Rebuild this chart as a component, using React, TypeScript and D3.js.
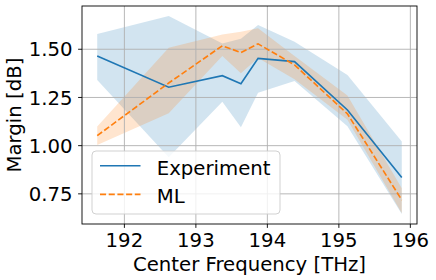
import * as d3 from "d3";

// channel center frequencies [THz]
const freqs = [191.62, 192.62, 193.37, 193.63, 193.87, 194.38, 195.12, 195.88];

// measured margin [dB] and its spread
const expMean = [1.465, 1.303, 1.363, 1.321, 1.453, 1.436, 1.185, 0.835];
const expUpper = [1.579, 1.673, 1.53, 1.555, 1.626, 1.539, 1.367, 1.021];
const expLower = [1.341, 0.94, 1.228, 1.095, 1.275, 1.335, 1.1, 0.645];

// ML prediction and its spread
const mlMean = [1.052, 1.325, 1.518, 1.483, 1.528, 1.419, 1.165, 0.718];
const mlUpper = [1.099, 1.508, 1.576, 1.591, 1.609, 1.465, 1.26, 0.779];
const mlLower = [1.004, 1.168, 1.465, 1.376, 1.455, 1.345, 1.135, 0.649];

const xTicks = [192, 193, 194, 195, 196];
const yTicks = [0.75, 1.0, 1.25, 1.5];

const seriesNames = ["Experiment", "ML"];

function App() {
  const width = 436;
  const height = 280;
  const margin = { left: 82, right: 19, top: 6, bottom: 56 };
  const blue = "#1f77b4";
  const orange = "#ff7f0e";
  const font = "DejaVu Sans";
  const fs = 19.7;

  // matplotlib-style 5% auto margins
  const pad = (lo: number, hi: number) => {
    const m = (hi - lo) * 0.05;
    return [lo - m, hi + m];
  };
  const xExt = d3.extent(freqs) as [number, number];
  const allY = [...expUpper, ...expLower, ...mlUpper, ...mlLower];
  const yExt = d3.extent(allY) as [number, number];

  const xScale = d3
    .scaleLinear()
    .domain(pad(xExt[0], xExt[1]))
    .range([margin.left, width - margin.right]);
  const yScale = d3
    .scaleLinear()
    .domain(pad(yExt[0], yExt[1]))
    .range([height - margin.bottom, margin.top]);

  const band = (lo: number[], hi: number[]) =>
    d3
      .area<number>()
      .x((d) => xScale(d))
      .y0((_, i) => yScale(lo[i]))
      .y1((_, i) => yScale(hi[i]))(freqs) || "";
  const line = (vals: number[]) =>
    d3
      .line<number>()
      .x((d) => xScale(d))
      .y((_, i) => yScale(vals[i]))(freqs) || "";

  const [x0, x1] = xScale.range();
  const [y0, y1] = yScale.range();

  // legend
  const lgX = 92;
  const lgY = 151;
  const lgRows = [165.7, 194.3];

  return (
    <svg
      width={width}
      height={height}
      style={{ position: "absolute", left: 0, top: 0, background: "white" }}
      fontFamily={font}
    >
      {/* bands */}
      <path d={band(expLower, expUpper)} fill={blue} fillOpacity={0.2} />
      <path d={band(mlLower, mlUpper)} fill={orange} fillOpacity={0.2} />

      {/* grid */}
      {xTicks.map((t) => (
        <line key={"gx" + t} x1={xScale(t)} x2={xScale(t)} y1={y1} y2={y0} stroke="#b0b0b0" strokeWidth={0.9} />
      ))}
      {yTicks.map((t) => (
        <line key={"gy" + t} x1={x0} x2={x1} y1={yScale(t)} y2={yScale(t)} stroke="#b0b0b0" strokeWidth={0.9} />
      ))}

      {/* lines */}
      <path d={line(expMean)} fill="none" stroke={blue} strokeWidth={1.65} />
      <path d={line(mlMean)} fill="none" stroke={orange} strokeWidth={1.65} strokeDasharray="6.1,2.6" />

      {/* frame */}
      <rect x={x0} y={y1} width={x1 - x0} height={y0 - y1} fill="none" stroke="black" strokeWidth={0.9} />

      {/* x axis */}
      {xTicks.map((t) => (
        <g key={"tx" + t}>
          <line x1={xScale(t)} x2={xScale(t)} y1={y0} y2={y0 + 3.9} stroke="black" strokeWidth={0.9} />
          <text x={xScale(t)} y={246.7} fontSize={fs} textAnchor="middle">
            {t}
          </text>
        </g>
      ))}
      {/* y axis */}
      {yTicks.map((t) => (
        <g key={"ty" + t}>
          <line x1={x0 - 3.9} x2={x0} y1={yScale(t)} y2={yScale(t)} stroke="black" strokeWidth={0.9} />
          <text x={72.5} y={yScale(t) + 7.2} fontSize={fs} textAnchor="end">
            {t.toFixed(2)}
          </text>
        </g>
      ))}
      <text x={(x0 + x1) / 2} y={271} fontSize={fs} textAnchor="middle">
        Center Frequency [THz]
      </text>
      <text
        transform={`translate(20.5,${(y0 + y1) / 2}) rotate(-90)`}
        fontSize={fs}
        textAnchor="middle"
      >
        Margin [dB]
      </text>

      {/* legend */}
      <rect
        x={lgX}
        y={lgY}
        width={188}
        height={63}
        rx={4}
        fill="white"
        fillOpacity={0.8}
        stroke="#cccccc"
        strokeWidth={0.9}
      />
      {seriesNames.map((name, i) => (
        <g key={name}>
          <line
            x1={100}
            x2={140.5}
            y1={lgRows[i]}
            y2={lgRows[i]}
            stroke={i === 0 ? blue : orange}
            strokeWidth={1.65}
            strokeDasharray={i === 0 ? undefined : "6.1,2.6"}
          />
          <text x={156.7} y={lgRows[i] + 8.8} fontSize={fs}>
            {name}
          </text>
        </g>
      ))}
    </svg>
  );
}

export default App;
